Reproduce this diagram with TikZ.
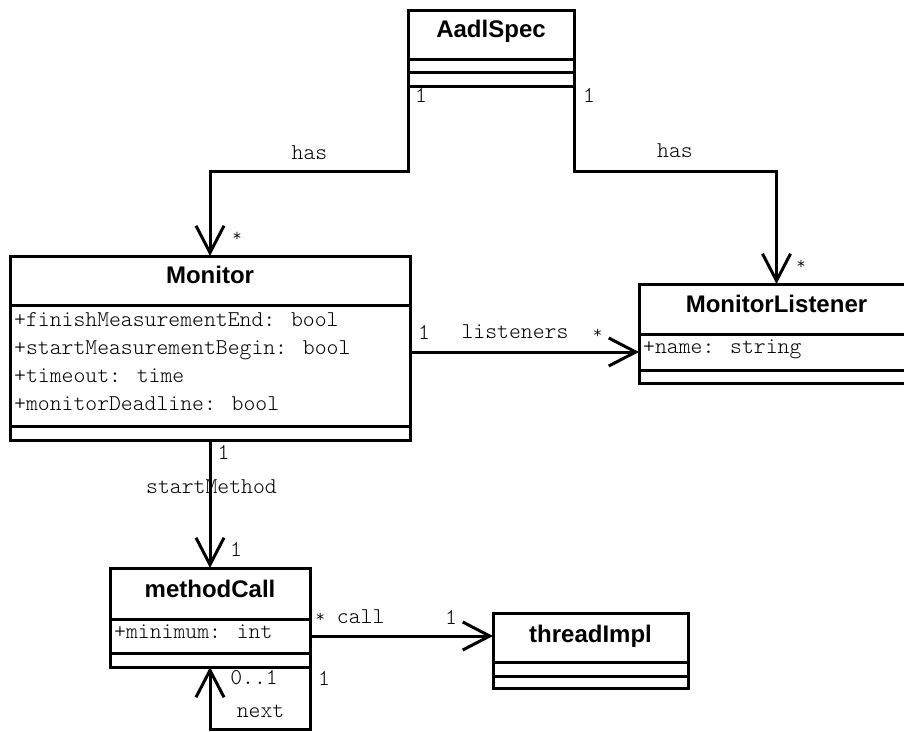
\documentclass[tikz,border=0pt]{standalone}
\usepackage{fontspec}
\newfontfamily\umlsans{Liberation Sans}
\newfontfamily\umlmono{lmmonolt10-regular.otf}
\usetikzlibrary{arrows.meta}
% small raised asterisk used for "many" multiplicities
\newcommand\umlmany{\raisebox{1pt}{\fontsize{18}{19}\selectfont *}}
\begin{document}
\begin{tikzpicture}[x=1pt,y=-1pt,
  umlclass/.style={draw, line width=3pt, rectangle, anchor=north west, inner sep=0pt, outer sep=0pt},
  divider/.style={line width=3pt},
  classname/.style={font=\umlsans\bfseries\fontsize{24}{26}\selectfont, inner sep=0pt, anchor=base},
  attr/.style={font=\umlmono\fontsize{22.6}{24}\selectfont, inner sep=0pt, anchor=base west},
  lbl/.style={font=\umlmono\fontsize{22.6}{24}\selectfont, inner sep=0pt},
  starlbl/.style={font=\umlmono\fontsize{18}{19}\selectfont, inner sep=0pt},
  assoc/.style={line width=3pt, -{Straight Barb[length=27pt,width=28pt,line width=3pt,sharp]}}
]
\useasboundingbox (0,0) rectangle (904,731);
\clip (0,0) rectangle (904,731);

% classes
\node[umlclass, minimum width=166pt, minimum height=76pt] (aadl) at (408,10) {};
\node[umlclass, minimum width=400pt, minimum height=184pt] (mon) at (10,256) {};
\node[umlclass, minimum width=275pt, minimum height=99pt] (lis) at (639,284) {};
\node[umlclass, minimum width=200pt, minimum height=99pt] (mc) at (110,568) {};
\node[umlclass, minimum width=195pt, minimum height=75pt] (ti) at (493,613) {};

% compartment lines
\draw[divider] (408,59) -- (574,59);
\draw[divider] (408,72) -- (574,72);
\draw[divider] (10,305) -- (410,305);
\draw[divider] (10,426) -- (410,426);
\draw[divider] (639,334) -- (914,334);
\draw[divider] (639,370) -- (914,370);
\draw[divider] (110,619) -- (310,619);
\draw[divider] (110,653) -- (310,653);
\draw[divider] (493,662) -- (688,662);
\draw[divider] (493,676) -- (688,676);

% class names
\node[classname] (aadlT) at (491,37) {AadlSpec};
\node[classname] (monT) at (210,283) {Monitor};
\node[classname] (lisT) at (776.5,312) {MonitorListener};
\node[classname] (mcT) at (210,597) {methodCall};
\node[classname] (tiT) at (590.5,642) {threadImpl};

% attributes
\node[attr] (a1) at (14,326) {+finishMeasurementEnd: bool};
\node[attr] (a2) at (14,354) {+startMeasurementBegin: bool};
\node[attr] (a3) at (14,382) {+timeout: time};
\node[attr] (a4) at (14,410) {+monitorDeadline: bool};
\node[attr] (a5) at (643,353) {+name: string};
\node[attr] (a6) at (114,638) {+minimum: int};

% associations
\coordinate (hasL) at (408,171);
\coordinate (hasR) at (574,171);
\coordinate (lisY) at (0,352);
\coordinate (callY) at (0,636);
\draw[assoc] (aadl.south west) -- (hasL) -| (mon.north);
\draw[assoc] (aadl.south east) -- (hasR) -| (lis.north);
\draw[assoc] (mon.east |- lisY) -- (lis.west |- lisY);
\draw[assoc] (mon.south) -- (mc.north);
\draw[assoc] (mc.east |- callY) -- (ti.west |- callY);
\draw[assoc] (mc.south east) -- ++(0,62) -| (mc.south);

% role names and multiplicities
\node[lbl] (m1) at (421,95) {1};
\node[lbl] (m2) at (589,95) {1};
\node[lbl] (r1) at (309.5,152.5) {has};
\node[lbl] (r2) at (675,151) {has};
\node[starlbl] (m3) at (237,236.5) {*};
\node[starlbl] (m4) at (801,265) {*};
\node[lbl] (m5) at (424,332) {1};
\node[lbl] (r3) at (515,332) {listeners};
\node[starlbl] (m6) at (597.5,333.5) {*};
\node[lbl] (m7) at (223.5,452) {1};
\node[lbl] (r4) at (211.5,486.5) {startMethod};
\node[lbl] (m8) at (236,549) {1};
\node[lbl, anchor=base] (r5) at (350,623) {\umlmany\ call};
\node[lbl] (m9) at (451,617) {1};
\node[lbl] (m10) at (254,678) {0..1};
\node[lbl] (m11) at (324,678) {1};
\node[lbl] (r6) at (260.5,711) {next};
\end{tikzpicture}
\end{document}
